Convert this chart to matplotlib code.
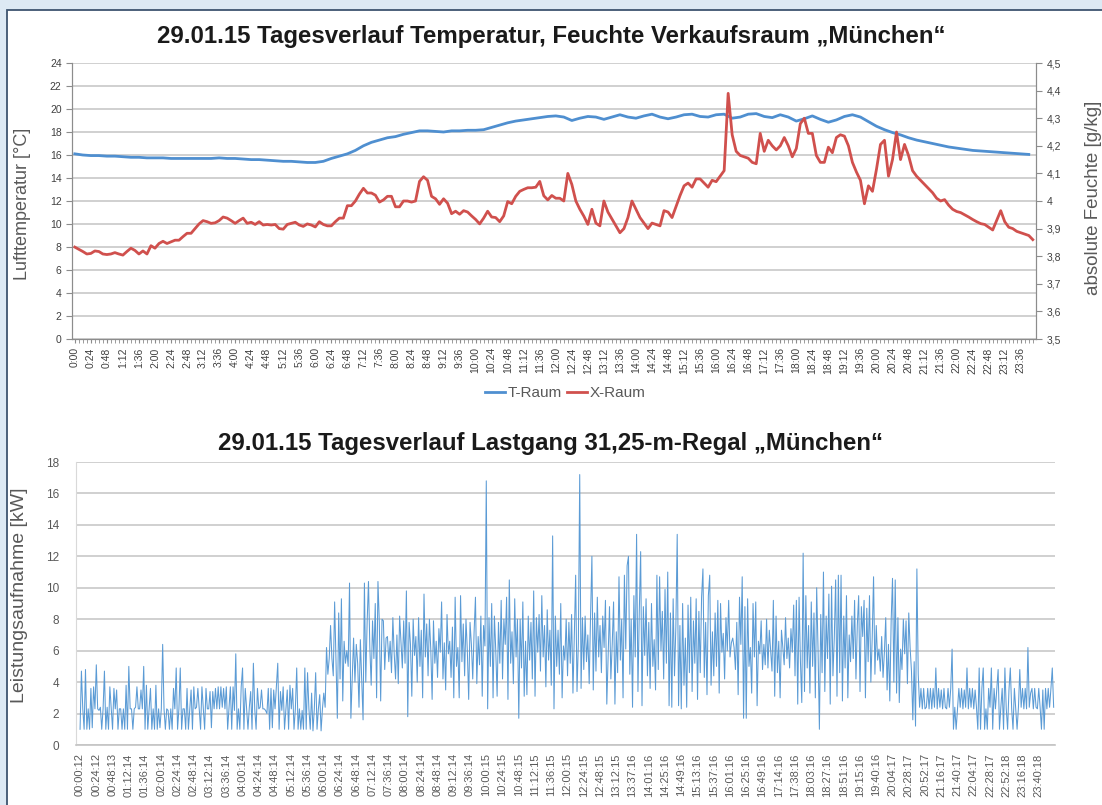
#!/usr/bin/env python3
"""
Tagesverlauf 29.01.15, Verkaufsraum München:
oben Raumtemperatur / absolute Feuchte, unten Lastgang des 31,25-m-Regals.
"""

import matplotlib
matplotlib.use("Agg")
import matplotlib.pyplot as plt
from matplotlib.patches import Rectangle
from matplotlib.ticker import FixedLocator, FuncFormatter, MultipleLocator

plt.rcParams["font.family"] = ["Liberation Sans", "DejaVu Sans"]

# --- Temperatur T-Raum [°C], alle 12 min (5 Werte je Stunde) ---
t_raum = [
    16.1, 16.0, 15.95, 15.95, 15.9,    # 0 h
    15.9, 15.85, 15.8, 15.8, 15.75,    # 1 h
    15.75, 15.75, 15.7, 15.7, 15.7,    # 2 h
    15.7, 15.7, 15.7, 15.75, 15.7,     # 3 h
    15.7, 15.65, 15.6, 15.6, 15.55,    # 4 h
    15.5, 15.45, 15.45, 15.4, 15.35,   # 5 h
    15.35, 15.45, 15.7, 15.9, 16.1,    # 6 h
    16.4, 16.8, 17.1, 17.3, 17.5,      # 7 h
    17.6, 17.8, 17.95, 18.1, 18.1,     # 8 h
    18.05, 18.0, 18.1, 18.1, 18.15,    # 9 h
    18.15, 18.2, 18.4, 18.6, 18.8,     # 10 h
    18.95, 19.05, 19.15, 19.25, 19.35, # 11 h
    19.4, 19.3, 19.0, 19.2, 19.35,     # 12 h
    19.3, 19.1, 19.3, 19.5, 19.3,      # 13 h
    19.2, 19.4, 19.55, 19.3, 19.15,    # 14 h
    19.3, 19.5, 19.55, 19.35, 19.3,    # 15 h
    19.5, 19.55, 19.2, 19.3, 19.55,    # 16 h
    19.6, 19.35, 19.25, 19.5, 19.3,    # 17 h
    18.95, 19.15, 19.4, 19.1, 18.85,   # 18 h
    19.05, 19.35, 19.5, 19.3, 18.9,    # 19 h
    18.5, 18.2, 17.95, 17.75, 17.5,    # 20 h
    17.3, 17.15, 17.0, 16.85, 16.7,    # 21 h
    16.6, 16.5, 16.4, 16.35, 16.3,     # 22 h
    16.25, 16.2, 16.15, 16.1, 16.05,   # 23 h
]

# --- absolute Feuchte X-Raum [g/kg], alle 6 min (10 Werte je Stunde) ---
x_raum = [
    3.833, 3.825, 3.817, 3.808, 3.810, 3.819, 3.817, 3.808, 3.806, 3.808,  # 0 h
    3.813, 3.808, 3.804, 3.817, 3.829, 3.821, 3.808, 3.819, 3.808, 3.838,  # 1 h
    3.829, 3.846, 3.854, 3.846, 3.852, 3.858, 3.858, 3.871, 3.883, 3.883,  # 2 h
    3.900, 3.917, 3.929, 3.925, 3.919, 3.921, 3.929, 3.942, 3.938, 3.929,  # 3 h
    3.919, 3.929, 3.938, 3.919, 3.923, 3.915, 3.925, 3.913, 3.915, 3.913,  # 4 h
    3.915, 3.900, 3.898, 3.915, 3.919, 3.923, 3.913, 3.908, 3.917, 3.913,  # 5 h
    3.906, 3.925, 3.915, 3.910, 3.910, 3.925, 3.938, 3.938, 3.983, 3.983,  # 6 h
    4.000, 4.025, 4.046, 4.029, 4.029, 4.021, 3.996, 4.004, 4.017, 4.017,  # 7 h
    3.979, 3.979, 4.000, 4.000, 3.996, 4.000, 4.071, 4.088, 4.075, 4.017,  # 8 h
    4.008, 3.988, 4.008, 3.992, 3.954, 3.963, 3.952, 3.965, 3.960, 3.946,  # 9 h
    3.933, 3.917, 3.938, 3.963, 3.942, 3.940, 3.925, 3.946, 3.998, 3.990,  # 10 h
    4.017, 4.035, 4.042, 4.048, 4.048, 4.050, 4.071, 4.019, 4.004, 4.020,  # 11 h
    4.010, 4.010, 4.000, 4.100, 4.060, 4.000, 3.970, 3.945, 3.915, 3.970,  # 12 h
    3.920, 3.910, 4.000, 3.960, 3.935, 3.910, 3.885, 3.900, 3.940, 4.000,  # 13 h
    3.970, 3.940, 3.920, 3.900, 3.920, 3.915, 3.910, 3.965, 3.960, 3.940,  # 14 h
    3.980, 4.020, 4.055, 4.065, 4.050, 4.080, 4.080, 4.065, 4.050, 4.075,  # 15 h
    4.070, 4.090, 4.110, 4.390, 4.240, 4.180, 4.165, 4.160, 4.155, 4.140,  # 16 h
    4.135, 4.245, 4.180, 4.220, 4.200, 4.185, 4.200, 4.230, 4.200, 4.160,  # 17 h
    4.190, 4.280, 4.300, 4.245, 4.245, 4.165, 4.140, 4.140, 4.195, 4.175,  # 18 h
    4.230, 4.240, 4.235, 4.200, 4.140, 4.105, 4.075, 3.990, 4.055, 4.035,  # 19 h
    4.115, 4.205, 4.220, 4.090, 4.150, 4.250, 4.150, 4.205, 4.165, 4.110,  # 20 h
    4.090, 4.075, 4.060, 4.045, 4.030, 4.010, 4.000, 4.005, 3.985, 3.970,  # 21 h
    3.962, 3.958, 3.950, 3.942, 3.933, 3.925, 3.918, 3.915, 3.905, 3.895,  # 22 h
    3.930, 3.965, 3.925, 3.905, 3.900, 3.890, 3.885, 3.880, 3.875, 3.860,  # 23 h
]

# --- Leistungsaufnahme Regal [kW], alle 2 min (30 Werte je Stunde) ---
leistung_kw = [
    1.0, 4.7, 2.3, 1.0, 4.8, 1.0, 2.3, 1.0, 3.6, 1.1, 3.7, 2.3, 5.1, 2.3, 2.2, 2.4, 1.0, 2.3, 4.7, 1.0, 2.4, 1.0, 3.7, 2.3, 1.0, 3.6, 2.3, 3.5, 1.0, 2.3,  # 0 h
    2.3, 1.0, 2.3, 1.0, 3.8, 1.0, 5.0, 2.3, 2.3, 1.0, 2.3, 2.4, 3.7, 2.3, 2.3, 3.5, 2.3, 5.0, 1.0, 3.8, 1.0, 2.3, 3.6, 1.0, 2.3, 1.0, 3.8, 1.0, 2.3, 1.1,  # 1 h
    2.3, 6.4, 2.3, 1.0, 2.3, 2.2, 1.0, 2.3, 1.0, 3.6, 2.3, 4.9, 1.0, 2.3, 4.9, 1.0, 2.3, 2.3, 1.0, 3.6, 1.0, 2.3, 3.5, 1.0, 3.7, 2.3, 2.4, 3.6, 2.3, 1.0,  # 2 h
    3.7, 2.3, 1.0, 3.6, 2.3, 2.3, 3.4, 1.1, 3.4, 2.3, 3.6, 2.3, 3.7, 2.3, 3.7, 2.4, 3.6, 2.3, 3.7, 1.0, 2.3, 3.7, 1.0, 3.7, 2.2, 5.8, 1.0, 2.3, 1.0, 3.7,  # 3 h
    4.9, 1.0, 3.6, 2.3, 1.0, 2.4, 3.4, 1.0, 5.2, 2.3, 1.0, 3.6, 2.3, 2.4, 3.5, 2.3, 2.3, 2.2, 2.0, 3.6, 1.0, 3.6, 1.1, 3.5, 2.3, 3.7, 5.2, 1.0, 3.4, 2.2,  # 4 h
    3.7, 1.0, 2.3, 3.5, 1.0, 3.8, 2.3, 3.6, 1.0, 2.3, 4.9, 1.0, 2.3, 1.0, 2.2, 1.0, 4.9, 1.0, 4.6, 2.3, 1.0, 3.3, 0.9, 2.3, 4.6, 1.0, 2.3, 3.2, 0.9, 2.3,  # 5 h
    3.3, 2.4, 6.2, 4.5, 5.5, 7.6, 5.5, 4.4, 9.1, 5.4, 1.7, 8.4, 4.2, 9.3, 2.8, 6.6, 5.2, 6.0, 5.0, 10.3, 1.7, 4.2, 6.8, 4.0, 6.4, 5.2, 2.4, 6.7, 4.2, 1.6,  # 6 h
    10.3, 4.0, 7.8, 10.4, 6.2, 3.8, 7.9, 5.5, 9.0, 3.0, 10.4, 7.8, 2.8, 8.0, 7.9, 4.8, 6.8, 6.9, 5.3, 6.6, 4.6, 8.1, 5.8, 4.2, 7.0, 3.9, 8.2, 6.5, 4.9, 7.9,  # 7 h
    5.2, 9.8, 1.8, 7.8, 6.4, 3.1, 8.0, 5.7, 6.9, 4.0, 8.1, 5.0, 7.3, 3.0, 9.6, 5.6, 7.7, 4.4, 8.0, 6.1, 2.9, 7.9, 5.2, 6.6, 4.3, 7.4, 5.9, 9.1, 4.2, 6.5,  # 8 h
    3.5, 8.3, 5.8, 6.6, 4.3, 7.5, 3.0, 9.4, 5.0, 6.2, 3.0, 9.5, 5.3, 7.7, 4.4, 8.0, 6.0, 2.9, 7.8, 6.4, 4.2, 7.2, 9.4, 3.9, 6.9, 5.1, 8.2, 3.1, 7.6, 6.3,  # 9 h
    16.8, 2.3, 8.1, 5.0, 9.0, 3.0, 8.2, 6.0, 3.1, 7.8, 5.2, 9.2, 4.2, 8.0, 6.4, 9.4, 2.9, 10.5, 5.2, 7.2, 3.9, 9.3, 5.6, 8.0, 1.7, 8.0, 4.9, 9.1, 3.1, 6.6,  # 10 h
    3.2, 8.2, 5.4, 7.8, 4.2, 9.8, 3.1, 8.1, 5.9, 8.3, 4.7, 9.5, 5.6, 7.6, 3.7, 8.6, 5.4, 7.3, 3.8, 13.3, 2.3, 8.2, 5.0, 7.3, 4.5, 9.0, 3.0, 6.3, 5.4, 8.0,  # 11 h
    4.4, 7.8, 5.2, 8.3, 3.3, 6.9, 10.8, 3.4, 6.5, 17.2, 3.6, 8.1, 4.8, 8.2, 5.3, 7.0, 3.9, 8.2, 12.0, 3.5, 8.4, 4.7, 9.4, 5.6, 7.6, 4.6, 8.2, 6.2, 9.2, 2.6,  # 12 h
    5.8, 8.8, 4.2, 6.4, 9.1, 2.6, 7.2, 4.6, 10.7, 5.4, 8.0, 3.0, 10.8, 6.1, 11.4, 12.0, 4.5, 8.0, 2.4, 9.5, 5.6, 13.4, 3.4, 8.5, 12.3, 2.5, 8.8, 5.7, 9.3, 4.4,  # 13 h
    7.8, 3.6, 9.0, 5.0, 6.7, 3.5, 10.8, 4.8, 10.7, 6.0, 8.5, 4.2, 9.9, 5.2, 11.0, 2.5, 8.4, 2.4, 9.3, 4.4, 7.5, 13.4, 2.5, 7.6, 2.3, 9.0, 3.8, 6.8, 2.4, 8.9,  # 14 h
    4.6, 9.4, 3.4, 7.9, 5.2, 9.3, 2.9, 8.5, 4.6, 9.4, 11.2, 4.3, 7.8, 3.2, 9.5, 10.8, 3.8, 7.2, 4.4, 8.4, 5.0, 9.2, 3.3, 9.0, 5.9, 7.1, 4.2, 8.1, 6.0, 9.2,  # 15 h
    5.6, 6.5, 6.8, 6.2, 4.8, 7.8, 3.2, 9.4, 6.4, 10.7, 1.7, 8.8, 1.7, 9.3, 5.0, 6.2, 3.3, 9.0, 5.6, 9.1, 2.5, 6.6, 5.8, 7.9, 4.8, 6.4, 5.1, 8.0, 4.9, 7.3,  # 16 h
    6.0, 4.7, 9.2, 3.1, 8.2, 4.6, 6.6, 3.0, 7.3, 6.2, 5.1, 8.1, 5.5, 6.8, 4.9, 7.4, 5.9, 8.9, 4.4, 9.2, 2.6, 9.4, 5.3, 2.7, 12.2, 3.4, 9.5, 4.9, 7.6, 3.3,  # 17 h
    9.1, 5.0, 8.4, 3.0, 10.0, 6.1, 1.0, 8.3, 4.6, 11.0, 3.4, 8.2, 5.5, 9.6, 2.6, 10.1, 4.4, 6.8, 10.5, 3.1, 10.8, 4.6, 10.8, 2.8, 8.2, 4.9, 9.5, 3.0, 7.0, 5.3,  # 18 h
    8.2, 5.5, 9.2, 4.2, 7.6, 9.5, 3.4, 8.8, 6.9, 9.2, 3.0, 8.7, 5.3, 9.5, 4.0, 6.8, 10.7, 4.5, 7.6, 5.4, 6.1, 4.7, 6.9, 4.3, 5.9, 8.1, 3.5, 6.4, 2.8, 7.9,  # 19 h
    10.6, 4.0, 10.5, 3.3, 8.1, 2.7, 6.1, 4.8, 8.0, 5.8, 7.9, 3.9, 8.4, 6.2, 4.7, 1.6, 5.3, 1.2, 11.2, 4.5, 2.4, 3.6, 2.3, 3.6, 2.3, 2.4, 3.6, 2.3, 3.6, 2.3,  # 20 h
    3.6, 2.4, 4.9, 2.3, 3.6, 2.4, 3.5, 2.3, 3.6, 2.4, 2.3, 3.6, 2.4, 3.6, 6.1, 1.0, 2.4, 1.0, 2.3, 3.6, 2.4, 3.6, 2.3, 3.5, 2.4, 4.9, 2.3, 3.6, 2.4, 3.6,  # 21 h
    2.3, 3.5, 2.4, 1.0, 4.9, 1.0, 3.6, 4.9, 1.0, 2.3, 1.0, 3.6, 2.4, 4.9, 1.0, 3.6, 2.3, 3.6, 4.8, 1.0, 2.4, 3.6, 1.0, 4.9, 2.3, 1.0, 3.5, 4.9, 2.3, 1.0,  # 22 h
    3.6, 2.3, 1.0, 2.4, 4.8, 2.4, 3.6, 2.3, 3.6, 2.3, 6.2, 2.4, 3.3, 3.6, 2.3, 3.6, 2.4, 2.3, 3.6, 2.4, 1.0, 3.5, 1.0, 3.6, 2.3, 3.6, 2.4, 3.6, 4.9, 2.4,  # 23 h
]

# Beschriftung der Zeitachse im Lastgang (Zeitstempel des Loggers)
lastgang_labels = [
    "00:00:12", "00:24:12", "00:48:13", "01:12:14", "01:36:14", "02:00:14",
    "02:24:14", "02:48:14", "03:12:14", "03:36:14", "04:00:14", "04:24:14",
    "04:48:14", "05:12:14", "05:36:14", "06:00:14", "06:24:14", "06:48:14",
    "07:12:14", "07:36:14", "08:00:14", "08:24:14", "08:48:14", "09:12:14",
    "09:36:14", "10:00:15", "10:24:15", "10:48:15", "11:12:15", "11:36:15",
    "12:00:15", "12:24:15", "12:48:15", "13:12:15", "13:37:16", "14:01:16",
    "14:25:16", "14:49:16", "15:13:16", "15:37:16", "16:01:16", "16:25:16",
    "16:49:16", "17:14:16", "17:38:16", "18:03:16", "18:27:16", "18:51:16",
    "19:15:16", "19:40:16", "20:04:17", "20:28:17", "20:52:17", "21:16:17",
    "21:40:17", "22:04:17", "22:28:17", "22:52:18", "23:16:18", "23:40:18",
]

BLUE = "#4f8fd0"
RED = "#d0504d"
LOAD = "#5b9bd5"
GRID = "#c4c4c4"
AXIS = "#8c8c8c"
TXT = "#595959"

W, H = 1102, 805
fig = plt.figure(figsize=(W / 100, H / 100), dpi=100)
fig.patch.set_facecolor("#dde9f4")
# weißer Rahmen der Abbildung
fig.add_artist(Rectangle((7 / W, -0.02), 1.05, 1 - 10 / H + 0.02,
                         transform=fig.transFigure, facecolor="white",
                         edgecolor="#3e5470", lw=1.3, zorder=-10))

def fig_rect(x0, y0, x1, y1):
    return [x0 / W, 1 - y1 / H, (x1 - x0) / W, (y1 - y0) / H]

# ---------------- oberes Diagramm ----------------
ax = fig.add_axes(fig_rect(72, 63, 1036, 339))
ax2 = ax.twinx()

t_hours = [i * 0.2 for i in range(len(t_raum))]
x_hours = [i * 0.1 for i in range(len(x_raum))]

ax.plot(t_hours, t_raum, color=BLUE, lw=2.0, label="T-Raum", zorder=3)
ax2.plot(x_hours, x_raum, color=RED, lw=2.0, label="X-Raum", zorder=3)

ax.set_xlim(-0.07, 23.98)
ax.set_ylim(0, 24)
ax2.set_ylim(3.5, 4.5)
ax.yaxis.set_major_locator(MultipleLocator(2))
ax2.yaxis.set_major_locator(MultipleLocator(0.1))
ax2.yaxis.set_major_formatter(
    FuncFormatter(lambda v, p: f"{v:.1f}".replace(".", ",").replace(",0", "")))
ax.grid(axis="y", color=GRID, lw=1.1)
ax.set_axisbelow(True)

top_ticks = [k * 0.4 for k in range(60)]
ax.xaxis.set_major_locator(FixedLocator(top_ticks))
ax.xaxis.set_minor_locator(FixedLocator([k * 0.1 for k in range(240)]))
ax.set_xticklabels([f"{int(round(t * 60)) // 60}:{int(round(t * 60)) % 60:02d}"
                    for t in top_ticks], rotation=90)

for a in (ax, ax2):
    for s in a.spines.values():
        s.set_color(AXIS)
    a.spines["top"].set_visible(False)
ax.tick_params(axis="x", which="both", length=3, color=AXIS, labelsize=7.5,
               labelcolor="#404040", pad=3)
ax.tick_params(axis="y", length=4, color=AXIS, labelsize=7.5, labelcolor="#404040")
ax2.tick_params(axis="y", length=4, color=AXIS, labelsize=7.5, labelcolor="#404040")

ax.set_ylabel("Lufttemperatur [°C]", fontsize=13, color=TXT)
ax.yaxis.set_label_coords(-0.043, 0.49)
ax2.set_ylabel("absolute Feuchte [g/kg]", fontsize=13.5, color=TXT)
ax2.yaxis.set_label_coords(1.051, 0.51)

fig.text(0.5, 1 - 36 / H,
         "29.01.15 Tagesverlauf Temperatur, Feuchte Verkaufsraum \u201eMünchen\u201c",
         ha="center", va="center", fontsize=17.3, fontweight="bold", color="#1a1a1a")

h1, l1 = ax.get_legend_handles_labels()
h2, l2 = ax2.get_legend_handles_labels()
fig.legend(h1 + h2, l1 + l2, loc="center", bbox_to_anchor=(0.513, 1 - 393 / H),
           ncol=2, frameon=False, fontsize=11, labelcolor=TXT, handlelength=1.3,
           handletextpad=0.2, columnspacing=0.3)

# ---------------- unteres Diagramm ----------------
bx = fig.add_axes(fig_rect(76, 462, 1055, 745))
p_hours = [i * 2 / 60 for i in range(len(leistung_kw))]
bx.plot(p_hours, leistung_kw, color=LOAD, lw=0.75, zorder=3)

bx.set_xlim(-0.1, 24.0)
bx.set_ylim(0, 18)
bx.yaxis.set_major_locator(MultipleLocator(2))
bx.grid(axis="y", color=GRID, lw=1.1)
bx.set_axisbelow(True)
bx.set_xticks([k * 0.4 for k in range(len(lastgang_labels))])
bx.set_xticklabels(lastgang_labels, rotation=90)
bx.tick_params(axis="x", length=0, labelsize=8, labelcolor=TXT, pad=6)
bx.tick_params(axis="y", length=0, labelsize=8.5, labelcolor=TXT, pad=12)
for s in ("top", "right"):
    bx.spines[s].set_visible(False)
bx.spines["left"].set_color("#d9d9d9")
bx.spines["bottom"].set_color(GRID)
bx.spines["bottom"].set_linewidth(1.2)

bx.set_ylabel("Leistungsaufnahme [kW]", fontsize=14, color=TXT)
bx.yaxis.set_label_coords(-0.049, 0.53)

fig.text(0.5, 1 - 443 / H,
         "29.01.15 Tagesverlauf Lastgang 31,25-m-Regal \u201eMünchen\u201c",
         ha="center", va="center", fontsize=17.3, fontweight="bold", color="#1a1a1a")

fig.savefig("out.png", dpi=100, facecolor=fig.get_facecolor())
